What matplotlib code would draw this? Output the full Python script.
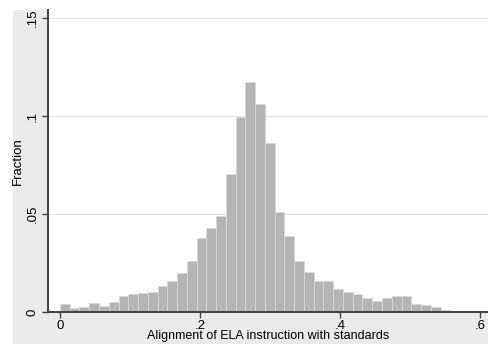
import matplotlib.pyplot as plt
from matplotlib.patches import Rectangle

plt.rcParams['font.family'] = ['Liberation Sans', 'DejaVu Sans']

# histogram of alignment scores: 40 bins starting at 0
bin_start = 0.0
bin_width = 0.01393
fractions = [0.0043, 0.0019, 0.0026, 0.0048, 0.0032, 0.0053, 0.0080, 0.0094,
             0.0099, 0.0104, 0.0131, 0.0158, 0.0201, 0.0259, 0.0376, 0.0429,
             0.0491, 0.0706, 0.0997, 0.1172, 0.1060, 0.0864, 0.0509, 0.0386,
             0.0259, 0.0204, 0.0156, 0.0156, 0.0116, 0.0104, 0.0094, 0.0071,
             0.0056, 0.0071, 0.0083, 0.0083, 0.0043, 0.0036, 0.0024, 0.0009]
x_ticks = [0, 0.2, 0.4, 0.6]
x_labels = ['0', '.2', '.4', '.6']
y_ticks = [0, 0.05, 0.1, 0.15]
y_labels = ['0', '.05', '.1', '.15']

W, H = 489, 349
fig = plt.figure(figsize=(W / 100, H / 100), dpi=100, facecolor='white')
# gray graph region
fig.patches.append(Rectangle((13 / W, (H - 344) / H), (W - 13) / W, (344 - 10) / H,
                             transform=fig.transFigure, facecolor='#eaeaea',
                             edgecolor='none', zorder=-1))

ax = fig.add_axes([48 / W, (H - 312) / H, 440 / W, 302 / H])
ax.set_zorder(1)
ax.set_facecolor('white')

lefts = [bin_start + i * bin_width for i in range(len(fractions))]
ax.bar(lefts, fractions, width=bin_width, align='edge', color='#b4b4b4',
       edgecolor='#d8d8d8', linewidth=0.6, zorder=2)

ax.set_xlim(-0.0171, 0.611)
ax.set_ylim(0, 0.1541)

ax.set_yticks(y_ticks)
ax.set_yticklabels(y_labels, rotation=90, va='center')
ax.set_xticks(x_ticks)
ax.set_xticklabels(x_labels)

for y in y_ticks[1:]:
    ax.axhline(y, color='#e4e4e4', linewidth=0.8, zorder=1)

for s in ['top', 'right']:
    ax.spines[s].set_visible(False)
for s in ['left', 'bottom']:
    ax.spines[s].set_color('#404040')
    ax.spines[s].set_linewidth(1.4)
    ax.spines[s].set_zorder(3)

ax.tick_params(axis='both', direction='out', length=4, width=1, color='#404040',
               labelsize=9.5, labelcolor='black')
ax.tick_params(axis='x', pad=1.5)
ax.tick_params(axis='y', pad=3)

ax.set_xlabel('Alignment of ELA instruction with standards', fontsize=9, labelpad=-1)
ax.set_ylabel('Fraction', fontsize=9.5, labelpad=2)

fig.savefig('out.png', dpi=100, facecolor='white')
